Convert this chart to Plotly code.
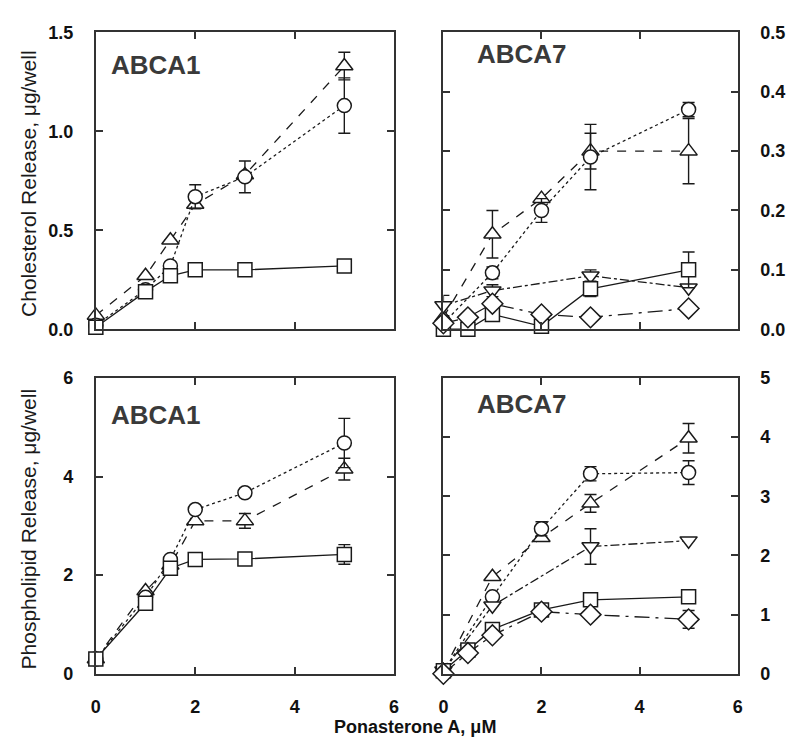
import plotly.graph_objects as go

# ---------------- data ----------------
x_a1 = [0, 1, 1.5, 2, 3, 5]
x_a7 = [0, 0.5, 1, 2, 3, 5]

# Cholesterol release, ABCA1
chol_a1_circle = [0.02, 0.20, 0.32, 0.67, 0.77, 1.13]
chol_a1_circle_err = [0, 0, 0.02, 0.06, 0.08, 0.14]
chol_a1_tri = [0.07, 0.27, 0.45, 0.63, 0.78, 1.33]
chol_a1_tri_err = [0, 0, 0, 0.02, 0, 0.07]
chol_a1_sq = [0.01, 0.19, 0.27, 0.30, 0.30, 0.32]
chol_a1_sq_err = [0, 0, 0, 0, 0, 0]

# Cholesterol release, ABCA7
chol_a7_circle = [0.01, None, 0.095, 0.20, 0.29, 0.37]
chol_a7_circle_err = [0, 0, 0.01, 0.02, 0.055, 0.012]
chol_a7_tri = [0.02, None, 0.16, 0.22, 0.30, 0.30]
chol_a7_tri_err = [0, 0, 0.04, 0, 0.03, 0.055]
chol_a7_tdown = [0.04, None, 0.065, None, 0.09, 0.07]
chol_a7_tdown_err = [0.017, 0, 0.01, 0, 0.01, 0]
chol_a7_sq = [0.0, 0.0, 0.025, 0.005, 0.068, 0.10]
chol_a7_sq_err = [0, 0, 0.01, 0, 0.013, 0.03]
chol_a7_dia = [0.01, 0.02, 0.043, 0.025, 0.02, 0.035]
chol_a7_dia_err = [0, 0, 0, 0, 0, 0]

# Phospholipid release, ABCA1
pl_a1_circle = [0.3, 1.55, 2.32, 3.33, 3.67, 4.68]
pl_a1_circle_err = [0, 0, 0, 0, 0, 0.5]
pl_a1_tri = [0.3, 1.68, 2.2, 3.1, 3.1, 4.15]
pl_a1_tri_err = [0, 0, 0, 0, 0.15, 0.22]
pl_a1_sq = [0.3, 1.43, 2.14, 2.32, 2.33, 2.42]
pl_a1_sq_err = [0, 0, 0, 0.08, 0, 0.2]

# Phospholipid release, ABCA7
pl_a7_circle = [0.05, None, 1.3, 2.45, 3.38, 3.4]
pl_a7_circle_err = [0, 0, 0, 0.12, 0.12, 0.2]
pl_a7_tri = [0.05, None, 1.64, 2.3, 2.88, 3.98]
pl_a7_tri_err = [0, 0, 0, 0, 0.15, 0.25]
pl_a7_tdown = [0.05, None, 1.15, None, 2.15, 2.25]
pl_a7_tdown_err = [0, 0, 0, 0, 0.3, 0]
pl_a7_sq = [0.05, 0.4, 0.75, 1.08, 1.25, 1.3]
pl_a7_sq_err = [0, 0, 0, 0, 0, 0.1]
pl_a7_dia = [0.0, 0.35, 0.65, 1.05, 1.0, 0.92]
pl_a7_dia_err = [0, 0, 0, 0, 0, 0.15]

panel_labels = ["ABCA1", "ABCA7", "ABCA1", "ABCA7"]
ytitle_top = "Cholesterol Release, μg/well"
ytitle_bot = "Phospholipid Release, μg/well"
xtitle = "Ponasterone A, μM"

# ---------------- styles ----------------
INK = "#1a1a1a"
STY = {
    "circle": dict(symbol="circle", dash="dot", size=14),
    "tri": dict(symbol="triangle-up", dash="dash", size=15),
    "tdown": dict(symbol="triangle-down", dash="dashdot", size=15),
    "sq": dict(symbol="square", dash="solid", size=14),
    "dia": dict(symbol="diamond", dash="longdashdot", size=16),
}

fig = go.Figure()


def add(x, y, err, kind, xa, ya):
    s = STY[kind]
    fig.add_trace(go.Scatter(
        x=x, y=y, xaxis=xa, yaxis=ya, mode="lines+markers",
        connectgaps=True, cliponaxis=False, showlegend=False,
        line=dict(color=INK, width=1.3, dash=s["dash"]),
        marker=dict(symbol=s["symbol"], size=s["size"], color="white",
                    line=dict(color=INK, width=1.5)),
        error_y=dict(type="data", array=err, visible=True, color=INK,
                     thickness=1.4, width=6),
    ))


# top-left
add(x_a1, chol_a1_tri, chol_a1_tri_err, "tri", "x", "y")
add(x_a1, chol_a1_circle, chol_a1_circle_err, "circle", "x", "y")
add(x_a1, chol_a1_sq, chol_a1_sq_err, "sq", "x", "y")
# top-right
add(x_a7, chol_a7_tri, chol_a7_tri_err, "tri", "x2", "y2")
add(x_a7, chol_a7_circle, chol_a7_circle_err, "circle", "x2", "y2")
add(x_a7, chol_a7_tdown, chol_a7_tdown_err, "tdown", "x2", "y2")
add(x_a7, chol_a7_sq, chol_a7_sq_err, "sq", "x2", "y2")
add(x_a7, chol_a7_dia, chol_a7_dia_err, "dia", "x2", "y2")
# bottom-left
add(x_a1, pl_a1_tri, pl_a1_tri_err, "tri", "x3", "y3")
add(x_a1, pl_a1_circle, pl_a1_circle_err, "circle", "x3", "y3")
add(x_a1, pl_a1_sq, pl_a1_sq_err, "sq", "x3", "y3")
# bottom-right
add(x_a7, pl_a7_tri, pl_a7_tri_err, "tri", "x4", "y4")
add(x_a7, pl_a7_circle, pl_a7_circle_err, "circle", "x4", "y4")
add(x_a7, pl_a7_tdown, pl_a7_tdown_err, "tdown", "x4", "y4")
add(x_a7, pl_a7_sq, pl_a7_sq_err, "sq", "x4", "y4")
add(x_a7, pl_a7_dia, pl_a7_dia_err, "dia", "x4", "y4")

W, H = 792, 749
LX = [92 / W, 394 / W]
RX = [444 / W, 742 / W]
TY = [1 - 328 / H, 1 - 23 / H]
BY = [1 - 682 / H, 1 - 378 / H]

tickfont = dict(family="Liberation Sans, Arial", size=18, color="#111", weight="bold")
common = dict(showline=True, linewidth=2, linecolor="#333", mirror="ticks",
              ticks="inside", ticklen=7, tickwidth=1.6, tickcolor="#333",
              showgrid=False, zeroline=False, tickfont=tickfont)

def xax(domain, anchor, labels):
    return dict(domain=domain, anchor=anchor, range=[0, 6], tickvals=[0, 2, 4, 6],
                showticklabels=labels, ticklabelstandoff=16, **common)

def yax(domain, anchor, rng, dt, fmt, side):
    return dict(domain=domain, anchor=anchor, range=rng, dtick=dt, tickformat=fmt,
                side=side, ticklabelstandoff=17, **common)

fig.update_layout(
    width=W, height=H, margin=dict(l=0, r=0, t=0, b=0),
    paper_bgcolor="white", plot_bgcolor="white",
    xaxis=xax(LX, "y", False),
    yaxis=yax(TY, "x", [0, 1.5], 0.5, ".1f", "left"),
    xaxis2=xax(RX, "y2", False),
    yaxis2=yax(TY, "x2", [0, 0.5], 0.1, ".1f", "right"),
    xaxis3=xax(LX, "y3", True),
    yaxis3=yax(BY, "x3", [0, 6], 2, "d", "left"),
    xaxis4=xax(RX, "y4", True),
    yaxis4=yax(BY, "x4", [0, 5], 1, "d", "right"),
)

lab_pos = [(153, 56), (524, 45), (153, 416), (524, 405)]
for txt, (px, py) in zip(panel_labels, lab_pos):
    fig.add_annotation(x=px / W, y=1 - py / H, xref="paper", yref="paper",
                       text=txt, showarrow=False, xanchor="center", yanchor="middle",
                       font=dict(family="Liberation Sans, Arial", size=26,
                                 color="#3a3a3a", weight="bold"))

title_font = dict(family="Liberation Sans, Arial", size=21, color=INK)
fig.add_annotation(x=24 / W, y=1 - 178 / H, xref="paper", yref="paper",
                   text=ytitle_top, textangle=-90, showarrow=False,
                   xanchor="center", yanchor="middle", font=title_font)
fig.add_annotation(x=24 / W, y=1 - 533 / H, xref="paper", yref="paper",
                   text=ytitle_bot, textangle=-90, showarrow=False,
                   xanchor="center", yanchor="middle", font=title_font)
fig.add_annotation(x=415 / W, y=0, xref="paper", yref="paper",
                   text=xtitle, showarrow=False, xanchor="center", yanchor="bottom",
                   font=dict(family="Liberation Sans, Arial", size=18, color="#111",
                             weight="bold"))

fig.write_html("out.html")
